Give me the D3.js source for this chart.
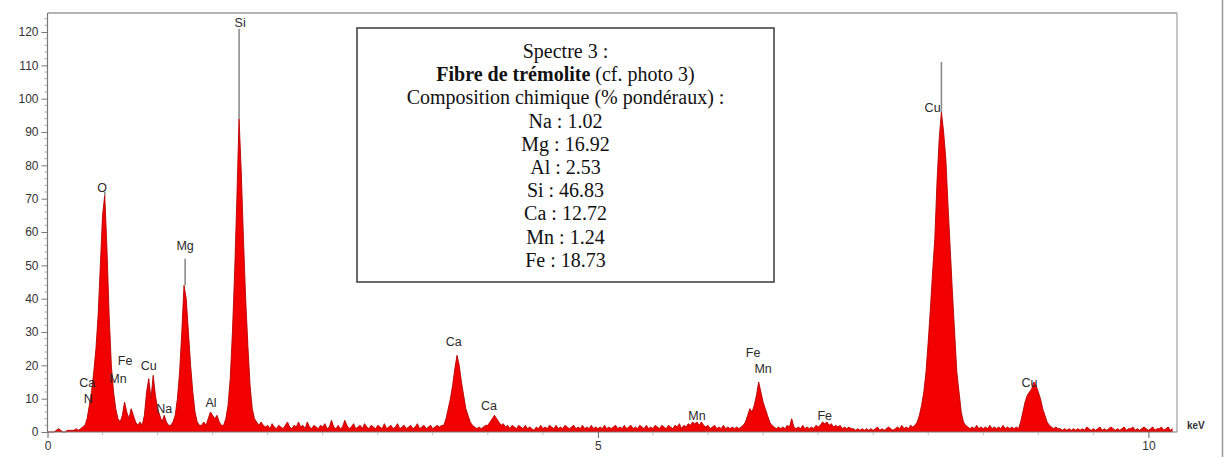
<!DOCTYPE html>
<html><head><meta charset="utf-8">
<script src="https://cdn.jsdelivr.net/npm/d3@7"></script>
<style>
html,body{margin:0;padding:0;background:#fff;}
svg{display:block;}
</style></head>
<body>
<svg id="chart" width="1230" height="457"></svg>
<script>
// ---- data ----
const channelStart = 0.0;   // keV of first channel
const channelStep = 0.02;   // keV per channel
const counts = [
 0,0,0,0,0.5,1,0.5,0,0,0.5,0.5,0.5,0.5,1,0.5,1,1.5,2,4,8,12,18,25,35,50,
 65,71,55,35,20,12,7,4,3,5,9,6,4,7,5,3,2,3,2,5,12,16,10,17,11,
 7,5,3,5,3,2,2,3,5,10,18,30,44,40,30,20,12,6,3,2,2,3,2,4,6,
 5,4,5,3,2,2,4,8,16,30,48,70,94,78,58,40,26,14,7,4,3,2,3,2,1.5,
 2,1,2.5,1.5,1,2,1.5,1,2,3,1.5,1,2,1.5,3,1.5,2,1,3,1.5,1,2,1.5,1,2,
 1.5,2.5,1,1.5,3.5,1.5,1,2,1,1.5,3.5,2,1,1.5,2.5,1,1.5,2,1,2.5,1.5,1,2,1.5,1,
 2,1.5,1,2.5,1,1.5,2,1,1.5,2.5,1,1.5,2,1,1.5,2,1,1.5,2.5,1,1.5,2,1,1.5,2,
 1,1.5,2,1.5,2,2,4,7,10,14,19,23,20,15,11,7,5,3,2,1.5,1,1.5,1,1.5,2,
 2,3,4,5,4,3,2,2.5,1.5,2,1,2,1.5,1,2,1.5,1,2,1,1.5,1,0.5,1.5,1,2,
 1,1.5,1,2,1.5,1,2,1,1.5,1,2,1.5,1,1.5,2,1,1.5,1,2,1,1.5,1,2,1,1.5,
 1,1.5,1,2,1,1.5,1,1.5,2,1,1.5,1,2,1,1.5,2,1,1.5,1,2,1.5,1,2,1,1.5,
 1,2,1.5,1,2,1.5,1,2,1.5,1,2,1.5,2.5,1,2,1.5,2.5,2,3,2.5,3,2,3,2,1.5,
 2,1,1.5,2,1,1.5,1,2,1,1.5,1,1.5,1,1.5,1,1.5,2,3,5,7,6,8,11,15,12,
 9,7,5,3,2,1.5,1,1.5,1,1.5,1,2,1.5,4,1.5,1,1.5,1,2,1,1.5,1,1.5,1,2,
 1.5,2,3,2.5,3,2,2.5,1.5,2,1.5,2,1,1.5,1,1.5,1,1,0.5,1,0.5,1,0.5,1,0.5,1,
 0.5,1,1.5,0.5,1,0.5,1,1.5,1,0.5,1,1.5,1,2,1,1.5,1,2,1.5,2,3,5,8,12,18,
 27,37,48,58,75,88,96,90,82,68,55,42,30,18,12,6,3,2,1.5,1,1.5,1,2,1,1.5,
 1,1.5,1,2,1,1.5,1,1.5,1,2,1,1.5,1,1.5,1,1.5,1,3,6,9,11,12,13,15,14,
 12,10,7,5,3,2,1.5,1,1.5,1,1,0.5,1,0.5,1,0.5,1,0.5,1,0.5,1,0.5,1.5,1,0.5,
 1,0.5,1,1.5,0.5,1,0.5,1,1.5,1,0.5,1,0.5,1,1.5,0.5,1,1,1.5,0.5,1,0.5,1,1.5,1,
 0.5,1,1.5,0.5,1,1,1.5,0.5,1,1.5,0.5,1
];

// peak marker lines (keV, from value, to value)
const markerEnergies = [0.52, 1.25, 1.74, 8.12];
const markerFrom = [71, 44, 94, 96];
const markerTo = [72, 52, 121, 111];

// peak labels
const labelNames =    ["Si","O","Mg","Ca","N","Mn","Fe","Cu","Na","Al","Ca","Ca","Mn","Fe","Mn","Fe","Cu","Cu"];
const labelEnergies = [1.75,0.495,1.25,0.36,0.37,0.64,0.705,0.92,1.06,1.485,3.69,4.01,5.9,6.41,6.5,7.06,8.04,8.92];
const labelValues =   [123,73.5,56.1,15,10.2,16.2,21.6,20.1,7.2,9,27.3,8.1,5.1,24,19.2,5.1,97.5,15];

// axis ticks
const yTickValues = [0,10,20,30,40,50,60,70,80,90,100,110,120];
const xTickValues = [0,5,10];
const xUnit = "keV";

// annotation box
const boxLines = [
  {parts:[{t:"Spectre 3 :", b:false}]},
  {parts:[{t:"Fibre de trémolite", b:true},{t:" (cf. photo 3)", b:false}]},
  {parts:[{t:"Composition chimique (% pondéraux) :", b:false}]},
  {parts:[{t:"Na : 1.02", b:false}]},
  {parts:[{t:"Mg : 16.92", b:false}]},
  {parts:[{t:"Al : 2.53", b:false}]},
  {parts:[{t:"Si : 46.83", b:false}]},
  {parts:[{t:"Ca : 12.72", b:false}]},
  {parts:[{t:"Mn : 1.24", b:false}]},
  {parts:[{t:"Fe : 18.73", b:false}]}
];

// ---- drawing ----
const svg = d3.select("#chart");
const x = d3.scaleLinear().domain([0, 10.26]).range([47.5, 1177]);
const y = d3.scaleLinear().domain([0, 125.7]).range([432, 13]);

const data = counts.map((c,i)=>({e: channelStart + i*channelStep, v: c}));

// outer frame line at right
svg.append("line").attr("x1",1222.5).attr("x2",1222.5).attr("y1",0).attr("y2",457)
  .attr("stroke","#9a9a9a").attr("stroke-width",1.5);

// plot frame (top and right)
svg.append("line").attr("x1",x(0)).attr("x2",1177).attr("y1",13).attr("y2",13)
  .attr("stroke","#9a9a9a").attr("stroke-width",1.5);
svg.append("line").attr("x1",1177).attr("x2",1177).attr("y1",13).attr("y2",432)
  .attr("stroke","#a8a8a8").attr("stroke-width",1.3);

// spectrum area
const area = d3.area().x(d=>x(d.e)).y0(y(0)).y1(d=>y(d.v)).curve(d3.curveLinear);
const line = d3.line().x(d=>x(d.e)).y(d=>y(d.v)).curve(d3.curveLinear);
svg.append("path").datum(data).attr("d",area).attr("fill","#f20000");
svg.append("path").datum(data).attr("d",line).attr("fill","none")
  .attr("stroke","#b80000").attr("stroke-width",0.9);

// peak marker lines
markerEnergies.forEach((e,i)=>{
  svg.append("line").attr("x1",x(e)).attr("x2",x(e))
    .attr("y1",y(markerFrom[i])).attr("y2",y(markerTo[i]))
    .attr("stroke","#8c8c8c").attr("stroke-width",1.6);
});

// axes
const yAxis = d3.axisLeft(y).tickValues(yTickValues).tickSize(6).tickPadding(3);
const gy = svg.append("g").attr("transform",`translate(${x(0)},0)`).call(yAxis);
gy.select(".domain").attr("stroke","#777").attr("stroke-width",1.2).attr("d",`M0,${y(0)}V13`);
gy.selectAll(".tick line").attr("stroke","#777");
gy.selectAll(".tick text").attr("fill","#333").style("font-family","'Liberation Sans',Arial,sans-serif").style("font-size","12px");
// minor y ticks
const yMinor = d3.range(0,126,2).filter(v=>v%10!==0);
svg.append("g").selectAll("line").data(yMinor).join("line")
  .attr("x1",x(0)-3).attr("x2",x(0)).attr("y1",d=>y(d)).attr("y2",d=>y(d))
  .attr("stroke","#999").attr("stroke-width",0.8);

const xAxis = d3.axisBottom(x).tickValues(xTickValues).tickSize(6).tickPadding(3).tickFormat(d3.format("d"));
const gx = svg.append("g").attr("transform",`translate(0,${y(0)})`).call(xAxis);
gx.select(".domain").attr("stroke","#777").attr("stroke-width",1).attr("d",`M${x(0)},0H1177`);
gx.selectAll(".tick line").attr("stroke","#666");
gx.selectAll(".tick text").attr("fill","#333").style("font-family","'Liberation Sans',Arial,sans-serif").style("font-size","12px");
const xMinor = d3.range(0,10.26,0.5).filter(v=>v%5!==0);
svg.append("g").selectAll("line").data(xMinor).join("line")
  .attr("x1",d=>x(d)).attr("x2",d=>x(d)).attr("y1",y(0)).attr("y2",y(0)+3)
  .attr("stroke","#aaa").attr("stroke-width",0.8);

svg.append("text").attr("x",1187).attr("y",429).text(xUnit)
  .attr("fill","#333").style("font-family","'Liberation Sans',Arial,sans-serif")
  .style("font-size","10px").style("font-weight","bold");

// peak labels
labelNames.forEach((n,i)=>{
  svg.append("text").attr("x",x(labelEnergies[i])).attr("y",y(labelValues[i]))
    .attr("dy","0.36em").attr("text-anchor","middle").text(n)
    .attr("fill","#2a2a2a").style("font-family","'Liberation Sans',Arial,sans-serif")
    .style("font-size","12.5px");
});

// annotation box
const bx0 = 357, bx1 = 774, by0 = 28, by1 = 282;
svg.append("rect").attr("x",bx0).attr("y",by0).attr("width",bx1-bx0).attr("height",by1-by0)
  .attr("fill","#fff").attr("stroke","#3a3a3a").attr("stroke-width",1.5);
const cx = (bx0+bx1)/2;
boxLines.forEach((ln,i)=>{
  const t = svg.append("text").attr("x",cx).attr("y",58 + i*23.2)
    .attr("text-anchor","middle").attr("fill","#111")
    .style("font-family","'Liberation Serif','Times New Roman',serif").style("font-size","20px");
  ln.parts.forEach(p=>{
    t.append("tspan").text(p.t).style("font-weight", p.b ? "bold" : "normal");
  });
});
</script>
</body></html>
